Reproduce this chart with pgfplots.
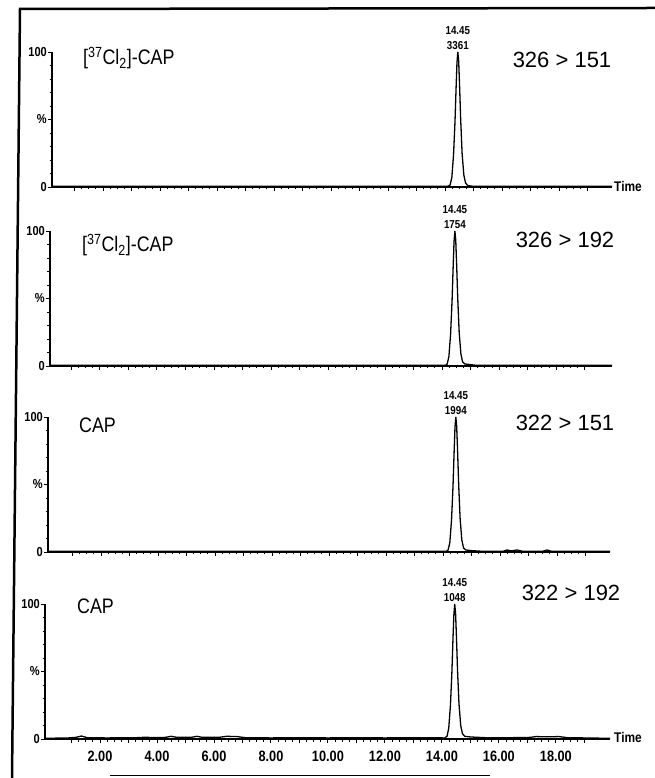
\documentclass[border=0pt]{standalone}
\usepackage{fontspec}
\setmainfont{Liberation Sans}
\newfontfamily\narrow[FakeStretch=0.85]{Liberation Sans}
\usepackage{pgfplots}
\pgfplotsset{compat=1.18}

\pgfplotstableread{
t y
0.21 0.5
14.10 0.5
14.18 1.5
14.24 7
14.30 24
14.35 48
14.39 74
14.42 92
14.45 100
14.48 93
14.51 76
14.55 50
14.60 25
14.66 9
14.72 3
14.80 1
15.00 0.5
19.86 0.5
}\pone

\pgfplotstableread{
t y
0.25 0.5
14.12 0.5
14.18 1.5
14.24 7
14.30 24
14.35 48
14.39 74
14.42 92
14.45 100
14.48 93
14.51 76
14.55 50
14.60 25
14.66 9
14.72 3
14.80 1.5
15.00 1
15.20 0.5
19.96 0.5
}\ptwo

\pgfplotstableread{
t y
0.14 0.5
14.12 0.5
14.18 1.5
14.24 7
14.30 24
14.35 48
14.39 74
14.42 92
14.45 100
14.48 93
14.51 76
14.55 50
14.60 25
14.66 9
14.72 3
14.80 1.5
15.00 1
15.40 0.5
16.10 0.5
16.25 1.5
16.40 0.8
16.60 1.5
16.80 0.5
17.50 0.5
17.65 1.5
17.80 0.5
19.86 0.5
}\pthree

\pgfplotstableread{
t y
0.07 0.5
0.90 0.8
1.15 1.2
1.35 2.2
1.55 1.0
2.20 0.8
3.20 0.9
3.60 1.3
3.90 1.0
4.30 1.2
4.50 2.0
4.70 1.2
5.20 1.2
5.40 2.0
5.60 1.2
6.20 1.3
6.45 2.0
6.80 1.8
7.10 1.0
8.00 0.8
9.00 1.0
10.00 0.8
11.00 1.0
12.00 0.8
13.00 1.0
14.10 0.8
14.18 2
14.24 8
14.30 25
14.35 49
14.39 75
14.42 92
14.45 100
14.48 93
14.51 76
14.55 50
14.60 26
14.66 10
14.72 4
14.80 2
15.00 1.5
15.50 1.0
16.50 1.0
17.10 1.2
17.30 1.8
17.70 1.6
18.10 1.8
18.40 1.0
19.00 0.8
19.90 0.5
}\pfour

\pgfplotsset{
 chrom/.style={
  scale only axis, height=135pt,
  axis lines=left, axis line style={-, line width=1.3pt},
  ymin=0, ymax=100, clip=false,
  ytick={0,50,100}, yticklabels={0,\%,100},
  minor y tick num=4,
  xtick={1,...,19}, minor x tick num=3,
  xticklabels={},
  tick align=outside,
  major tick length=4pt, minor tick length=2.5pt,
  every tick/.style={line width=0.9pt, black},
  /pgf/number format/assume math mode=true,
  tick label style={font=\narrow\bfseries\fontsize{13}{13}\selectfont},
  yticklabel style={inner sep=1pt},
 },
 chromline/.style={black, line width=1.3pt, mark=none},
}
\tikzset{
 pk/.style={anchor=south, align=center, inner sep=0pt, yshift=2pt,
   font=\narrow\bfseries\fontsize{11.5}{15}\selectfont},
}

\begin{document}
\begin{tikzpicture}[x=1pt,y=1pt]
\path[use as bounding box] (0,0) rectangle (655,778);

% frame
\draw[line width=2.5pt] (20,769) -- (12,0);
\draw[line width=2.5pt] (19,769) -- (655,770);
\draw[line width=0.8pt] (110,3) -- (490,3);

% panel 1
\begin{axis}[chrom, at={(52pt,591pt)}, anchor=south west, width=560pt,
  xmin=0.21, xmax=19.86]
\addplot[chromline] table[x=t,y=y] {\pone};
\node[pk] at (axis cs:14.45,100) {14.45\\3361};
\end{axis}

% panel 2
\begin{axis}[chrom, at={(50pt,412pt)}, anchor=south west, width=562pt,
  xmin=0.25, xmax=19.96]
\addplot[chromline] table[x=t,y=y] {\ptwo};
\node[pk] at (axis cs:14.45,100) {14.45\\1754};
\end{axis}

% panel 3
\begin{axis}[chrom, at={(48pt,226pt)}, anchor=south west, width=562pt,
  xmin=0.14, xmax=19.86]
\addplot[chromline] table[x=t,y=y] {\pthree};
\node[pk] at (axis cs:14.45,100) {14.45\\1994};
\end{axis}

% panel 4
\begin{axis}[chrom, at={(45pt,39pt)}, anchor=south west, width=565pt,
  xmin=0.07, xmax=19.90,
  xticklabels={{},2.00,{},4.00,{},6.00,{},8.00,{},10.00,{},12.00,{},14.00,{},16.00,{},18.00,{}},
  xticklabel style={font=\narrow\bfseries\fontsize{15}{15}\selectfont, yshift=-4pt}]
\addplot[chromline] table[x=t,y=y] {\pfour};
\node[pk] at (axis cs:14.45,100) {14.45\\1048};
\end{axis}

% compound labels
\node[anchor=base west, inner sep=0pt, font=\narrow\fontsize{21}{21}\selectfont] at (83,713) {[\textsuperscript{37}Cl\textsubscript{2}]-CAP};
\node[anchor=base west, inner sep=0pt, font=\narrow\fontsize{21}{21}\selectfont] at (82,526) {[\textsuperscript{37}Cl\textsubscript{2}]-CAP};
\node[anchor=base west, inner sep=0pt, font=\narrow\fontsize{21}{21}\selectfont] at (79,345) {CAP};
\node[anchor=base west, inner sep=0pt, font=\narrow\fontsize{21}{21}\selectfont] at (77,164) {CAP};

% transition labels
\node[anchor=base, inner sep=0pt, font=\fontsize{22}{22}\selectfont] at (562,710) {326 > 151};
\node[anchor=base, inner sep=0pt, font=\fontsize{22}{22}\selectfont] at (565,530) {326 > 192};
\node[anchor=base, inner sep=0pt, font=\fontsize{22}{22}\selectfont] at (565,347) {322 > 151};
\node[anchor=base, inner sep=0pt, font=\fontsize{22}{22}\selectfont] at (571,177) {322 > 192};

% Time labels
\node[anchor=west, inner sep=0pt, font=\narrow\bfseries\fontsize{14}{14}\selectfont] at (614,591) {Time};
\node[anchor=west, inner sep=0pt, font=\narrow\bfseries\fontsize{14}{14}\selectfont] at (614,41) {Time};
\end{tikzpicture}
\end{document}
